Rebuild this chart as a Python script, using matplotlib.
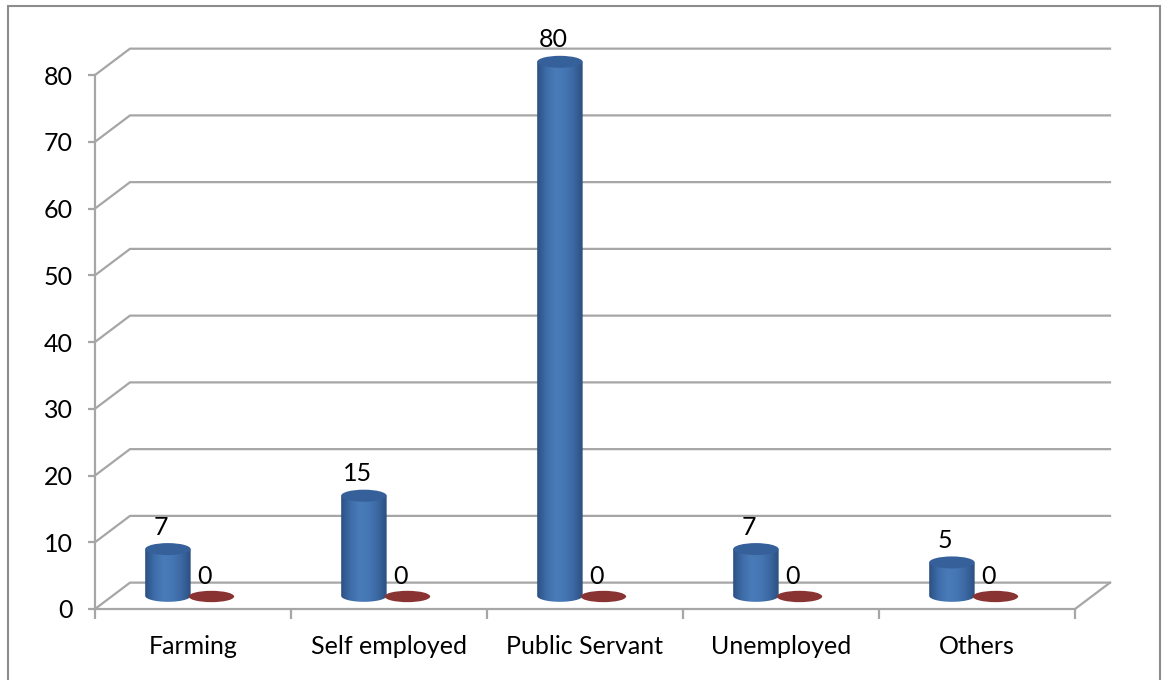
import matplotlib.pyplot as plt
import numpy as np
from matplotlib.patches import Ellipse, Polygon, Rectangle
from matplotlib.colors import LinearSegmentedColormap

categories = ['Farming', 'Self employed', 'Public Servant', 'Unemployed', 'Others']
series1 = [7, 15, 80, 7, 5]
series2 = [0, 0, 0, 0, 0]
yticks = [0, 10, 20, 30, 40, 50, 60, 70, 80]

plt.rcParams['font.family'] = ['Lato', 'DejaVu Sans']

W, H = 1163, 680
fig = plt.figure(figsize=(W / 100, H / 100), dpi=100)
# axes = front plane of the 3d box, extended to hold the back plane
ax = fig.add_axes([95 / W, (H - 609) / H, (1112 - 95) / W, (609 - 47) / H])
ax.set_xlim(0, (1112 - 95) / 196)
ax.set_ylim(0, (609 - 47) / 6.675)

dx, dy = 35 / 196, 3.95   # depth offset
grid_c = '#a6a6a6'
fs = 18

for s in ['top', 'right']:
    ax.spines[s].set_visible(False)
ax.spines['left'].set_bounds(0, 80)
ax.spines['bottom'].set_bounds(0, 5)
for s in ['left', 'bottom']:
    ax.spines[s].set_color(grid_c)
    ax.spines[s].set_linewidth(1.6)
ax.set_yticks(yticks)
ax.set_yticklabels([str(v) for v in yticks], fontsize=fs)
ax.tick_params(axis='y', length=5, width=1.6, color=grid_c, pad=11)
ax.set_xticks(range(6))
ax.set_xticklabels([])
ax.tick_params(axis='x', length=7.5, width=1.6, color=grid_c)
ax.set_xticks(np.arange(5) + 0.5, minor=True)
ax.set_xticklabels(categories, minor=True, fontsize=fs)
ax.tick_params(axis='x', which='minor', length=0, pad=19)

# walls / gridlines
for v in yticks:
    ax.plot([0, dx, 5 + dx], [v, v + dy, v + dy], color=grid_c, lw=1.6, zorder=1,
            clip_on=False)
ax.plot([5, 5 + dx], [0, dy], color=grid_c, lw=1.6, zorder=1, clip_on=False)

cmap = LinearSegmentedColormap.from_list(
    'cyl', ['#2c5183', '#3d6ca9', '#4a7bb9', '#4677b5', '#3b68a2', '#2c5082'])


def cylinder(xc, v, w, eh, top_c, cm):
    base = dy / 2
    t = np.linspace(np.pi, 2 * np.pi, 40)
    pts = [(xc - w / 2, base + v)]
    pts += list(zip(xc + w / 2 * np.cos(t), base + eh / 2 * np.sin(t)))
    pts += [(xc + w / 2, base + v)]
    body = Polygon(pts, closed=True, fc='none', ec='none')
    ax.add_patch(body)
    grad = np.linspace(0, 1, 100).reshape(1, -1)
    im = ax.imshow(grad, cmap=cm, aspect='auto', zorder=3,
                   extent=[xc - w / 2, xc + w / 2, base - eh / 2, base + v])
    im.set_clip_path(body)
    ax.add_patch(Ellipse((xc, base + v), w, eh, fc=top_c, ec='none', zorder=4))


w, eh = 0.232, 1.8
for i in range(5):
    xb = i + 0.372
    xr = i + 0.594
    cylinder(xb, series1[i], w, eh, '#36609a', cmap)
    ax.text(xb - 0.035, series1[i] + dy / 2 + 3.3, str(series1[i]), ha='center',
            va='center', fontsize=fs, zorder=5)
    if series2[i] == 0:
        ax.add_patch(Ellipse((xr, dy / 2 + series2[i] - 0.1), w, 1.7, fc='#8a3333',
                             ec='none', zorder=4))
    ax.text(xr - 0.035, series2[i] + dy / 2 + 2.9, str(series2[i]), ha='center',
            va='center', fontsize=fs, zorder=5)

fig.add_artist(Rectangle((8 / W, -0.02), (1160 - 8) / W, (H - 6) / H + 0.02,
                         transform=fig.transFigure, fill=False, ec='#8c8c8c', lw=1.5))

fig.savefig('out.png', dpi=100)
